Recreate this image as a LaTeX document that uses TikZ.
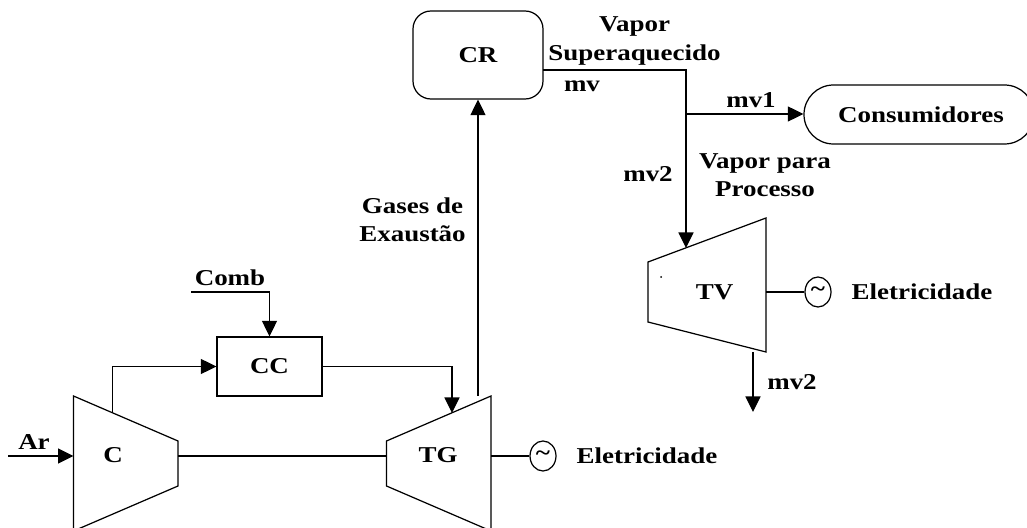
\documentclass[tikz,border=0pt]{standalone}
\usepackage{fontspec}
\setmainfont[FakeStretch=1.19]{Liberation Serif}
\usetikzlibrary{arrows.meta,shapes.geometric}
\tikzset{
	lbl/.style={font=\fontsize{12.9}{16}\selectfont\bfseries,inner sep=0pt},
	flow/.style={-{Triangle[length=0.31cm,width=0.3cm]}},
	gen/.style={draw,ellipse,inner sep=0pt,minimum width=0.52cm,minimum height=0.6cm,font=\fontsize{13}{13}\selectfont\bfseries}
}
\begin{document}
\begin{tikzpicture}[line width=0.7pt]
\useasboundingbox (0,0) rectangle (20.54,10.56);

% gas turbine side
\coordinate (cin) at (0.16,1.44);
\coordinate (cinb) at (1.47,1.44);
\coordinate (cout) at (2.25,2.30);
\coordinate (cshaft) at (3.56,1.44);
\coordinate (tgshaft) at (7.73,1.44);
\coordinate (tgin) at (9.04,2.30);
\coordinate (tgout) at (9.56,2.64);
\coordinate (tgel) at (9.82,1.44);
\coordinate (combin) at (3.82,4.72);

\draw (1.47,2.64) to (3.56,1.74) to (3.56,0.84) to (1.47,-0.06) to cycle;
\node[lbl] (c) at (2.26,1.46) {C};
\draw (7.73,1.74) to (9.82,2.64) to (9.82,-0.06) to (7.73,0.84) to cycle;
\node[lbl] (tg) at (8.76,1.46) {TG};
\node[lbl,draw,line width=0.7pt,minimum width=2.1cm,minimum height=1.18cm] (cc) at (5.39,3.23) {CC};
\node[gen] (gena) at (10.86,1.44) {\raisebox{-0.75ex}{\textasciitilde}};

\node[lbl] (ar) at (0.68,1.72) {Ar};
\node[lbl] (comb) at (4.6,5.0) {Comb};
\node[lbl] (ela) at (12.94,1.44) {Eletricidade};
\node[lbl,align=center] (gases) at (8.25,6.17) {Gases de\\Exaustão};

\draw[flow] (cin) to (cinb);
\draw (cshaft) to (tgshaft);
\draw[flow] (combin) -| (cc.north);
\draw[flow] (cout) |- (cc.west);
\draw[flow] (cc.east) -| (tgin);
\draw (tgel) to (gena);

% steam side
\node[lbl,draw,line width=0.7pt,rounded corners=0.36cm,minimum width=2.6cm,minimum height=1.76cm] (cr) at (9.56,9.46) {CR};
\node[lbl,draw,line width=0.7pt,rounded corners=0.59cm,minimum width=4.6cm,minimum height=1.18cm,text width=4.6cm,align=center] (cons) at (18.38,8.27) {\hspace*{0.08cm}Consumidores};
\coordinate (crout) at (10.86,9.16);
\coordinate (split) at (13.72,9.16);
\coordinate (tap) at (13.72,8.28);
\coordinate (tvin) at (13.72,5.60);
\coordinate (tvel) at (15.32,4.72);
\coordinate (tvout) at (15.06,3.52);
\coordinate (tvend) at (15.06,2.32);

\draw[flow] (tgout) to (cr.south);
\draw (crout) to (split) to (tap);
\draw[flow] (tap) to (tvin);
\draw[flow] (tap) to (cons.west |- tap);

\draw (12.96,5.32) to (15.32,6.20) to (15.32,3.52) to (12.96,4.12) to cycle;
\fill (13.22,5.02) circle (0.02);
\node[lbl] (tv) at (14.29,4.72) {TV};
\node[gen] (genb) at (16.36,4.72) {\raisebox{-0.75ex}{\textasciitilde}};
\draw (tvel) to (genb);
\draw[flow] (tvout) to (tvend);

\node[lbl,align=center] (vs) at (12.69,9.74) {Vapor\\Superaquecido};
\node[lbl] (mv) at (11.64,8.84) {mv};
\node[lbl] (mva) at (15.02,8.56) {mv1};
\node[lbl] (mvb) at (12.96,7.08) {mv2};
\node[lbl,align=center] (vp) at (15.3,7.06) {Vapor para\\Processo};
\node[lbl] (elb) at (18.44,4.72) {Eletricidade};
\node[lbl] (mvc) at (15.84,2.92) {mv2};

\end{tikzpicture}
\end{document}
